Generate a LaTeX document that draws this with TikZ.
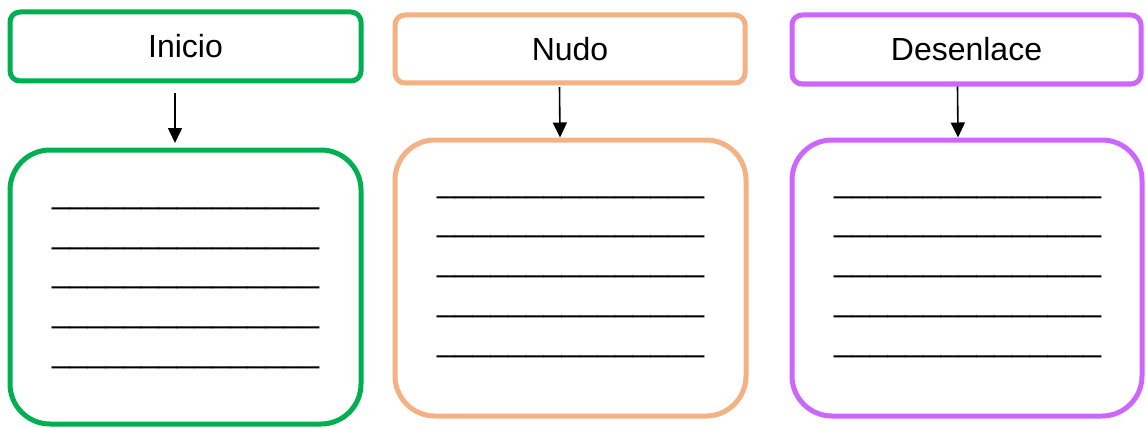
\documentclass[tikz,border=0pt]{standalone}
\usepackage{fontspec}
\setmainfont{Liberation Sans}
\usetikzlibrary{arrows.meta}
\definecolor{cgreen}{HTML}{00B050}
\definecolor{corange}{HTML}{F4B183}
\definecolor{cpurple}{HTML}{CC66FF}
\newcommand{\blanks}{\_\_\_\_\_\_\_\_\_\_\_\_\_\_\_}
\begin{document}
\begin{tikzpicture}[x=1pt,y=-1pt,
  titlebox/.style={draw, line width=5pt, rounded corners=10pt, fill=white,
    inner sep=0pt, text=black, font=\fontsize{32}{38}\selectfont},
  bigbox/.style={draw, line width=5pt, rounded corners=40pt, fill=white, inner sep=0pt},
  blankline/.style={anchor=base west, inner sep=0pt, font=\fontsize{32}{38}\selectfont},
  arr/.style={line width=1.6pt, -{Triangle[length=15pt,width=14pt]}}]
\useasboundingbox (0,0) rectangle (1146,428);
\fill[white] (0,0) rectangle (1146,428);
% top boxes
\node[titlebox, draw=cgreen, minimum width=351pt, minimum height=69pt] (t1) at (185.5,46.5) {Inicio};
\node[titlebox, draw=corange, minimum width=350pt, minimum height=68pt] (t2) at (570,49) {Nudo};
\node[titlebox, draw=cpurple, minimum width=349pt, minimum height=69pt] (t3) at (966.5,49.5) {Desenlace};
% bottom boxes
\node[bigbox, draw=cgreen, minimum width=351pt, minimum height=274pt] (b1) at (185.5,287) {};
\node[bigbox, draw=corange, minimum width=351pt, minimum height=276pt] (b2) at (570.5,278) {};
\node[bigbox, draw=cpurple, minimum width=350pt, minimum height=276pt] (b3) at (967,278) {};
% arrows
\draw[arr] ([xshift=-10.5pt,yshift=-9.5pt]t1.south) -- ([xshift=-10.5pt,yshift=4.5pt]b1.north);
\draw[arr] ([xshift=-10.5pt,yshift=-1.5pt]t2.south) -- ([xshift=-10.5pt]b2.north);
\draw[arr] ([xshift=-9pt]t3.south) -- ([xshift=-9pt]b3.north);
% blank lines
\foreach \y [count=\i] in {209,249,288,328,368} {
  \node[blankline] (l1\i) at (52,\y-5.7) {\blanks};
}
\foreach \y [count=\i] in {198,237,277,317,357} {
  \node[blankline] (l2\i) at (437,\y-5.7) {\blanks};
  \node[blankline] (l3\i) at (834,\y-5.7) {\blanks};
}
\end{tikzpicture}
\end{document}
